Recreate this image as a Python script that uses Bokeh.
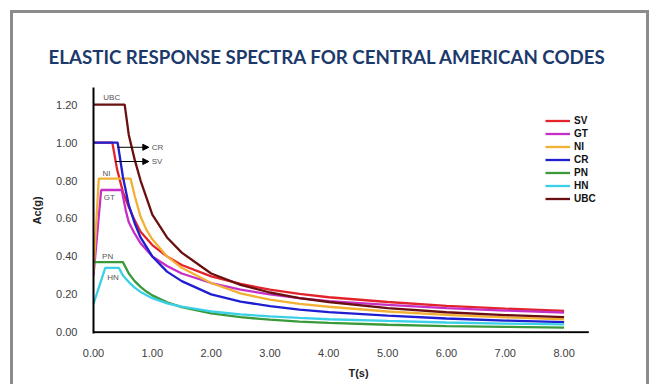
from bokeh.plotting import figure
from bokeh.models import Range1d, Legend, LegendItem, Label, Arrow, NormalHead, FixedTicker
from bokeh.embed import file_html
from bokeh.resources import INLINE

# ---- data ----
title_text = "ELASTIC RESPONSE SPECTRA FOR CENTRAL AMERICAN CODES"

sv_T = [0, 0.32, 0.4, 0.5, 0.6, 0.7, 0.8, 1.0, 1.25, 1.5, 2.0, 2.5, 3.0, 3.5, 4.0, 5.0, 6.0, 7.0, 8.0]
sv_A = [1.0, 1.0, 0.86, 0.74, 0.66, 0.59, 0.53, 0.46, 0.40, 0.355, 0.295, 0.255, 0.225, 0.203, 0.185, 0.16, 0.14, 0.125, 0.113]

gt_T = [0, 0.13, 0.48, 0.55, 0.6, 0.7, 0.8, 1.0, 1.25, 1.5, 2.0, 2.5, 3.0, 3.5, 4.0, 5.0, 6.0, 7.0, 8.0]
gt_A = [0.30, 0.75, 0.75, 0.64, 0.58, 0.52, 0.47, 0.40, 0.35, 0.31, 0.26, 0.225, 0.20, 0.18, 0.165, 0.145, 0.128, 0.115, 0.104]

ni_T = [0, 0.09, 0.63, 0.7, 0.8, 0.9, 1.0, 1.25, 1.5, 2.0, 2.5, 3.0, 3.5, 4.0, 5.0, 6.0, 7.0, 8.0]
ni_A = [0.32, 0.81, 0.81, 0.72, 0.61, 0.54, 0.49, 0.40, 0.34, 0.26, 0.205, 0.172, 0.15, 0.135, 0.11, 0.092, 0.079, 0.068]

cr_T = [0, 0.41, 0.5, 0.6, 0.7, 0.8, 1.0, 1.25, 1.5, 2.0, 2.5, 3.0, 3.5, 4.0, 5.0, 6.0, 7.0, 8.0]
cr_A = [1.0, 1.0, 0.82, 0.67, 0.575, 0.5, 0.40, 0.32, 0.27, 0.20, 0.162, 0.138, 0.12, 0.107, 0.088, 0.073, 0.062, 0.054]

pn_T = [0, 0.5, 0.6, 0.7, 0.8, 0.9, 1.0, 1.25, 1.5, 2.0, 2.5, 3.0, 3.5, 4.0, 5.0, 6.0, 7.0, 8.0]
pn_A = [0.37, 0.37, 0.31, 0.27, 0.24, 0.215, 0.195, 0.158, 0.133, 0.10, 0.08, 0.067, 0.057, 0.05, 0.04, 0.033, 0.029, 0.025]

hn_T = [0, 0.2, 0.43, 0.5, 0.6, 0.7, 0.8, 1.0, 1.25, 1.5, 2.0, 2.5, 3.0, 3.5, 4.0, 5.0, 6.0, 7.0, 8.0]
hn_A = [0.15, 0.34, 0.34, 0.30, 0.265, 0.236, 0.213, 0.18, 0.153, 0.135, 0.11, 0.095, 0.084, 0.076, 0.069, 0.06, 0.052, 0.046, 0.042]

ubc_T = [0, 0.53, 0.6, 0.7, 0.8, 0.9, 1.0, 1.25, 1.5, 2.0, 2.5, 3.0, 3.5, 4.0, 5.0, 6.0, 7.0, 8.0]
ubc_A = [1.2, 1.2, 1.04, 0.91, 0.80, 0.71, 0.62, 0.50, 0.42, 0.31, 0.25, 0.21, 0.18, 0.16, 0.128, 0.106, 0.091, 0.08]

series_names = ["SV", "GT", "NI", "CR", "PN", "HN", "UBC"]
series_colors = ["#e3232c", "#c62fc6", "#f2b134", "#1f1fd1", "#3a9a3a", "#3ccfe8", "#6b1010"]
series_T = [sv_T, gt_T, ni_T, cr_T, pn_T, hn_T, ubc_T]
series_A = [sv_A, gt_A, ni_A, cr_A, pn_A, hn_A, ubc_A]

x_ticks = [0, 1, 2, 3, 4, 5, 6, 7, 8]
x_tick_labels = ["0.00", "1.00", "2.00", "3.00", "4.00", "5.00", "6.00", "7.00", "8.00"]
y_ticks = [0, 0.2, 0.4, 0.6, 0.8, 1.0, 1.2]
y_tick_labels = ["0.00", "0.20", "0.40", "0.60", "0.80", "1.00", "1.20"]
x_axis_end = 8.42   # where the drawn T axis line stops

# curve annotations: (text, T, Ac)
curve_labels = [("UBC", 0.31, 1.235), ("NI", 0.22, 0.835), ("GT", 0.27, 0.71),
                ("PN", 0.24, 0.40), ("HN", 0.33, 0.29)]
# arrow annotations: (text, T_start, T_end, Ac)
arrow_labels = [("CR", 0.41, 0.94, 0.975), ("SV", 0.37, 0.94, 0.90)]

# ---- figure ----
p = figure(width=639, height=374, output_backend="svg", toolbar_location=None,
           x_range=Range1d(0, 9.01), y_range=Range1d(-0.006, 1.29),
           min_border_left=80, min_border_right=29, min_border_top=74, min_border_bottom=54)
p.styles = {"margin-left": "10px", "margin-top": "10px",
            "border-left": "3px solid #8c8c8c", "border-top": "3px solid #8c8c8c",
            "border-right": "3px solid #8c8c8c"}
p.outline_line_color = None
p.xgrid.visible = False
p.ygrid.visible = False

p.title.text = title_text
p.title.align = "left"
p.title.offset = -45
p.title.text_font = "Lato"
p.title.text_font_style = "bold"
p.title.text_font_size = "18.7px"
p.title.text_color = "#1b3a6b"
p.title.standoff = 40

for ax in (p.xaxis[0], p.yaxis[0]):
    ax.axis_line_color = "black"
    ax.axis_line_width = 2
    ax.major_tick_line_color = None
    ax.minor_tick_line_color = None
    ax.major_label_text_font = "Liberation Sans"
    ax.major_label_text_font_size = "11px"
    ax.major_label_text_color = "#404040"
    ax.axis_label_text_font = "Liberation Sans"
    ax.axis_label_text_font_style = "bold"
    ax.axis_label_text_font_size = "11px"
    ax.axis_label_text_color = "#222222"

p.xaxis.axis_line_color = None
p.xaxis.ticker = FixedTicker(ticks=x_ticks)
p.yaxis.ticker = FixedTicker(ticks=y_ticks)
p.xaxis.major_label_overrides = {t: s for t, s in zip(x_ticks, x_tick_labels)}
p.yaxis.major_label_overrides = {t: s for t, s in zip(y_ticks, y_tick_labels)}
p.xaxis.major_label_standoff = 9
p.yaxis.major_label_standoff = 10

p.yaxis.axis_label = "Ac(g)"
p.yaxis.axis_label_standoff = 10
p.xaxis.axis_label = "T(s)"
p.xaxis.axis_label_standoff = 7

# T axis line (stops short of the frame's right edge, as in the reference)
p.line([0, x_axis_end], [0, 0], line_color="black", line_width=2)

renderers = []
for name, color, T, A in zip(series_names, series_colors, series_T, series_A):
    r = p.line(T, A, line_color=color, line_width=2.3)
    renderers.append((name, r))

legend = Legend(items=[LegendItem(label=n, renderers=[r]) for n, r in renderers],
                location=(452, 128), glyph_width=25, glyph_height=13, label_height=13,
                label_standoff=4, spacing=0, padding=0, margin=0,
                border_line_color=None, background_fill_alpha=0,
                label_text_font="Liberation Sans", label_text_font_style="bold",
                label_text_font_size="10px", label_text_color="#111111")
p.add_layout(legend)

for txt, tx, ty in curve_labels:
    p.add_layout(Label(x=tx, y=ty, text=txt, text_font="Liberation Sans",
                       text_font_size="8px", text_color="#555555",
                       text_align="center", text_baseline="middle"))

for txt, t0, t1, ay in arrow_labels:
    p.add_layout(Arrow(end=NormalHead(size=6, fill_color="black", line_color="black"),
                       x_start=t0, y_start=ay, x_end=t1, y_end=ay,
                       line_color="black", line_width=1))
    p.add_layout(Label(x=t1 + 0.05, y=ay, text=txt, text_font="Liberation Sans",
                       text_font_size="8px", text_color="#555555",
                       text_align="left", text_baseline="middle"))

open("out.html", "w").write(file_html(p, INLINE))
